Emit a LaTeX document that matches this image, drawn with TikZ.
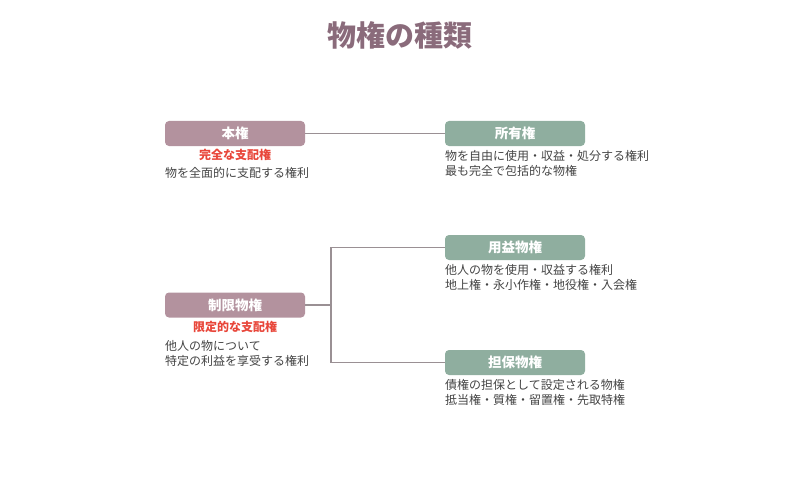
\documentclass[tikz,border=0pt]{standalone}
\usepackage{fontspec}
\setmainfont{Noto Sans CJK JP}
\usetikzlibrary{positioning}
\definecolor{mauve}{HTML}{B3929E}
\definecolor{sage}{HTML}{8FAE9F}
\definecolor{titlec}{HTML}{8A6B7B}
\definecolor{redc}{HTML}{E8463A}
\definecolor{textc}{HTML}{444444}
\definecolor{linec}{HTML}{9A9094}
\tikzset{
  x=1pt,y=-1pt,
  boxbase/.style={minimum width=140pt,minimum height=25pt,inner sep=0pt,rounded corners=4pt,text=white,font=\fontsize{13.5}{15}\selectfont\bfseries},
  leftbox/.style={boxbase,fill=mauve},
  rightbox/.style={boxbase,fill=sage},
  redlabel/.style={text=redc,font=\fontsize{12}{13}\selectfont\bfseries,inner sep=0pt},
  desc/.style={text=textc,font=\fontsize{12}{15}\selectfont,inner sep=0pt,anchor=north west,align=left},
  conn/.style={draw=linec,line width=1.5pt}
}
\begin{document}
\begin{tikzpicture}
\useasboundingbox (0,0) rectangle (800,500);
\node[text=titlec,font=\fontsize{29}{33}\selectfont\bfseries] (title) at (400,35) {物権の種類};

\node[leftbox] (honken) at (235,133.5) {本権};
\node[redlabel] (honkenr) at (235,155) {完全な支配権};
\node[desc] (honkend) at (165,167) {物を全面的に支配する権利};

\node[rightbox] (shoyu) at (515,133.5) {所有権};
\node[desc] (shoyud) at (445,150.5) {物を自由に使用・収益・処分する権利\\最も完全で包括的な物権};

\node[leftbox] (seigen) at (235,305) {制限物権};
\node[redlabel] (seigenr) at (235,327) {限定的な支配権};
\node[desc] (seigend) at (165,340) {他人の物について\\特定の利益を享受する権利};

\node[rightbox] (yoeki) at (515,247.5) {用益物権};
\node[desc] (yoekid) at (445,264.5) {他人の物を使用・収益する権利\\地上権・永小作権・地役権・入会権};

\node[rightbox] (tanpo) at (515,362.5) {担保物権};
\node[desc] (tanpod) at (445,379.5) {債権の担保として設定される物権\\抵当権・質権・留置権・先取特権};

\coordinate (branch) at (331,305);
\draw[conn] (honken.east) -- (shoyu.west);
\draw[conn] (seigen.east) -- (branch);
\draw[conn] (branch) |- (yoeki.west);
\draw[conn] (branch) |- (tanpo.west);
\end{tikzpicture}
\end{document}
